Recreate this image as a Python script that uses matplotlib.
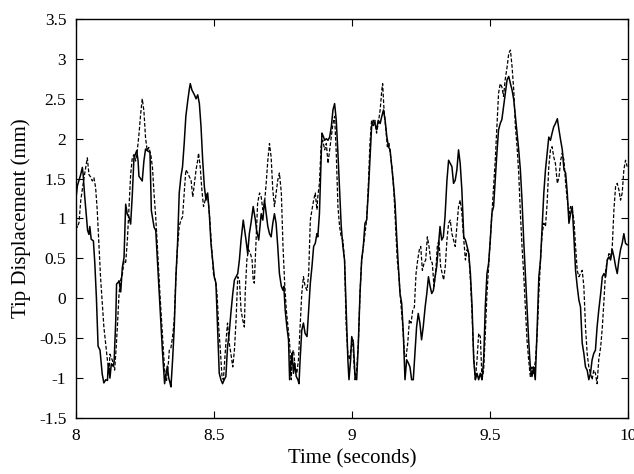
import matplotlib
matplotlib.use("Agg")
import matplotlib.pyplot as plt

# measured tip displacement (solid)
t_solid = [8.000, 8.005, 8.017, 8.023, 8.026, 8.031, 8.037, 8.042, 8.047, 8.050,
           8.055, 8.063, 8.068, 8.074, 8.080, 8.087, 8.095, 8.101, 8.108, 8.114,
           8.117, 8.123, 8.128, 8.134, 8.138, 8.144, 8.147, 8.153, 8.156, 8.162,
           8.168, 8.174, 8.180, 8.186, 8.192, 8.198, 8.204, 8.210, 8.220, 8.225,
           8.228, 8.240, 8.246, 8.252, 8.258, 8.268, 8.273, 8.283, 8.289, 8.295,
           8.304, 8.313, 8.321, 8.326, 8.331, 8.336, 8.340, 8.344, 8.350, 8.356,
           8.362, 8.368, 8.374, 8.380, 8.386, 8.392, 8.398, 8.405, 8.411, 8.414,
           8.420, 8.429, 8.435, 8.441, 8.447, 8.453, 8.459, 8.465, 8.471, 8.477,
           8.483, 8.489, 8.495, 8.501, 8.507, 8.513, 8.519, 8.525, 8.531, 8.537,
           8.543, 8.549, 8.555, 8.561, 8.568, 8.574, 8.580, 8.586, 8.592, 8.598,
           8.606, 8.616, 8.622, 8.628, 8.634, 8.642, 8.650, 8.654, 8.662, 8.671,
           8.677, 8.683, 8.689, 8.695, 8.701, 8.707, 8.713, 8.719, 8.725, 8.731,
           8.737, 8.744, 8.750, 8.753, 8.758, 8.764, 8.770, 8.774, 8.780, 8.783,
           8.788, 8.792, 8.798, 8.804, 8.808, 8.812, 8.818, 8.824, 8.830, 8.837,
           8.843, 8.849, 8.855, 8.861, 8.867, 8.873, 8.876, 8.882, 8.886, 8.891,
           8.896, 8.901, 8.907, 8.913, 8.919, 8.925, 8.931, 8.937, 8.943, 8.949,
           8.955, 8.961, 8.967, 8.973, 8.979, 8.985, 8.989, 8.995, 8.999, 9.005,
           9.011, 9.017, 9.023, 9.029, 9.035, 9.041, 9.047, 9.053, 9.059, 9.065,
           9.071, 9.077, 9.083, 9.089, 9.095, 9.102, 9.108, 9.114, 9.120, 9.126,
           9.132, 9.138, 9.144, 9.150, 9.156, 9.162, 9.168, 9.174, 9.180, 9.186,
           9.192, 9.198, 9.204, 9.210, 9.216, 9.222, 9.228, 9.234, 9.240, 9.246,
           9.252, 9.258, 9.265, 9.271, 9.277, 9.283, 9.289, 9.295, 9.301, 9.307,
           9.313, 9.319, 9.325, 9.331, 9.337, 9.344, 9.350, 9.356, 9.362, 9.368,
           9.374, 9.380, 9.386, 9.392, 9.398, 9.405, 9.411, 9.417, 9.423, 9.429,
           9.435, 9.441, 9.447, 9.453, 9.459, 9.465, 9.471, 9.477, 9.483, 9.489,
           9.495, 9.501, 9.507, 9.513, 9.519, 9.525, 9.531, 9.537, 9.543, 9.549,
           9.555, 9.562, 9.568, 9.574, 9.580, 9.586, 9.592, 9.598, 9.604, 9.610,
           9.616, 9.622, 9.628, 9.634, 9.640, 9.646, 9.652, 9.658, 9.664, 9.671,
           9.677, 9.683, 9.689, 9.695, 9.701, 9.707, 9.713, 9.719, 9.725, 9.731,
           9.737, 9.744, 9.750, 9.756, 9.762, 9.768, 9.774, 9.780, 9.786, 9.792,
           9.798, 9.804, 9.810, 9.816, 9.822, 9.828, 9.834, 9.840, 9.846, 9.852,
           9.858, 9.864, 9.870, 9.876, 9.882, 9.888, 9.894, 9.901, 9.907, 9.913,
           9.919, 9.925, 9.931, 9.937, 9.943, 9.949, 9.955, 9.961, 9.967, 9.973,
           9.979, 9.985, 9.991, 9.997]
y_solid = [1.26, 1.41, 1.55, 1.64, 1.55, 1.30, 1.05, 0.85, 0.80, 0.90,
           0.74, 0.72, 0.45, 0.00, -0.60, -0.65, -0.95, -1.06, -1.02, -1.03,
           -0.82, -1.00, -0.82, -0.85, -0.80, -0.28, 0.18, 0.20, 0.22, 0.08,
           0.39, 0.51, 1.18, 1.05, 1.02, 0.93, 1.30, 1.76, 1.85, 1.72,
           1.53, 1.47, 1.72, 1.87, 1.85, 1.83, 1.10, 0.89, 0.85, 0.47,
           -0.11, -0.65, -1.07, -0.95, -0.85, -1.00, -1.05, -1.11, -0.77, -0.36,
           0.27, 0.69, 1.32, 1.52, 1.65, 1.94, 2.28, 2.48, 2.63, 2.69,
           2.61, 2.55, 2.50, 2.55, 2.44, 2.15, 1.73, 1.40, 1.23, 1.32,
           1.06, 0.69, 0.48, 0.27, 0.19, -0.36, -0.94, -1.02, -1.07, -1.02,
           -0.98, -0.61, -0.44, -0.19, 0.06, 0.23, 0.27, 0.31, 0.48, 0.73,
           0.98, 0.73, 0.56, 0.81, 0.94, 1.15, 0.98, 0.86, 0.73, 1.06,
           0.98, 1.23, 1.06, 0.90, 0.81, 0.77, 0.94, 1.06, 0.94, 0.65,
           0.31, 0.15, 0.10, 0.15, -0.15, -0.36, -0.52, -1.02, -0.77, -0.69,
           -0.94, -0.81, -0.98, -1.02, -1.07, -0.77, -0.40, -0.31, -0.44, -0.48,
           -0.15, 0.19, 0.40, 0.65, 0.69, 0.81, 0.77, 1.06, 1.52, 2.07,
           2.03, 1.98, 2.00, 1.98, 2.02, 2.15, 2.36, 2.44, 2.23, 1.82,
           1.36, 0.90, 0.65, 0.48, -0.15, -0.77, -1.02, -0.77, -0.48, -0.56,
           -0.98, -1.02, -0.56, 0.06, 0.48, 0.65, 0.94, 0.98, 1.32, 1.73,
           2.15, 2.23, 2.19, 2.11, 2.23, 2.19, 2.28, 2.36, 2.23, 2.03,
           1.90, 1.86, 1.65, 1.44, 1.19, 0.77, 0.40, 0.06, -0.06, -0.44,
           -1.02, -0.77, -0.81, -0.86, -1.02, -1.02, -0.69, -0.36, -0.19, -0.31,
           -0.52, -0.36, -0.11, 0.06, 0.27, 0.15, 0.06, 0.10, 0.27, 0.40,
           0.65, 0.90, 0.73, 0.77, 1.02, 1.48, 1.73, 1.69, 1.65, 1.44,
           1.48, 1.61, 1.86, 1.69, 1.36, 0.77, 0.73, 0.65, 0.56, 0.31,
           -0.10, -0.77, -1.02, -0.94, -1.02, -0.94, -1.02, -0.77, -0.10, 0.31,
           0.44, 0.73, 1.07, 1.15, 1.48, 1.82, 2.11, 2.19, 2.24, 2.40,
           2.57, 2.74, 2.78, 2.69, 2.61, 2.49, 2.28, 2.07, 1.86, 1.61,
           1.23, 0.73, 0.31, -0.10, -0.52, -0.86, -0.98, -0.86, -1.02, -0.36,
           0.27, 0.48, 0.90, 1.32, 1.61, 1.82, 2.02, 1.98, 2.07, 2.15,
           2.19, 2.25, 2.11, 1.98, 1.86, 1.61, 1.57, 1.32, 0.94, 1.06,
           1.15, 0.77, 0.35, 0.15, -0.02, -0.11, -0.56, -0.69, -0.86, -0.90,
           -1.02, -0.94, -0.77, -0.69, -0.65, -0.36, -0.15, 0.06, 0.27, 0.31,
           0.27, 0.48, 0.52, 0.48, 0.61, 0.52, 0.40, 0.31, 0.48, 0.61,
           0.69, 0.81, 0.69, 0.67]

# predicted tip displacement (dashed)
t_dashed = [8.000, 8.005, 8.011, 8.017, 8.029, 8.041, 8.047, 8.053, 8.059, 8.065,
            8.071, 8.077, 8.089, 8.101, 8.110, 8.114, 8.120, 8.123, 8.132, 8.140,
            8.145, 8.150, 8.156, 8.162, 8.168, 8.174, 8.180, 8.186, 8.192, 8.198,
            8.204, 8.210, 8.216, 8.222, 8.228, 8.234, 8.240, 8.246, 8.252, 8.258,
            8.264, 8.271, 8.277, 8.283, 8.289, 8.295, 8.304, 8.313, 8.321, 8.328,
            8.335, 8.338, 8.344, 8.350, 8.356, 8.362, 8.368, 8.374, 8.380, 8.386,
            8.392, 8.398, 8.405, 8.411, 8.417, 8.423, 8.429, 8.435, 8.441, 8.444,
            8.450, 8.456, 8.462, 8.468, 8.473, 8.479, 8.485, 8.491, 8.499, 8.505,
            8.511, 8.517, 8.523, 8.529, 8.534, 8.539, 8.543, 8.549, 8.555, 8.561,
            8.568, 8.574, 8.580, 8.586, 8.592, 8.598, 8.604, 8.610, 8.613, 8.619,
            8.625, 8.632, 8.638, 8.642, 8.646, 8.652, 8.658, 8.665, 8.671, 8.677,
            8.683, 8.689, 8.695, 8.701, 8.707, 8.713, 8.719, 8.725, 8.731, 8.737,
            8.744, 8.750, 8.756, 8.762, 8.768, 8.774, 8.780, 8.783, 8.788, 8.794,
            8.800, 8.806, 8.812, 8.818, 8.824, 8.830, 8.837, 8.843, 8.849, 8.855,
            8.861, 8.867, 8.873, 8.876, 8.882, 8.888, 8.894, 8.901, 8.907, 8.913,
            8.919, 8.925, 8.931, 8.937, 8.943, 8.949, 8.955, 8.961, 8.967, 8.973,
            8.979, 8.985, 8.991, 8.997, 9.003, 9.005, 9.011, 9.017, 9.023, 9.029,
            9.035, 9.041, 9.047, 9.053, 9.059, 9.065, 9.071, 9.077, 9.083, 9.089,
            9.095, 9.102, 9.108, 9.111, 9.116, 9.122, 9.128, 9.134, 9.140, 9.146,
            9.152, 9.158, 9.164, 9.170, 9.176, 9.184, 9.190, 9.196, 9.202, 9.208,
            9.214, 9.220, 9.226, 9.232, 9.238, 9.244, 9.249, 9.255, 9.261, 9.267,
            9.273, 9.279, 9.285, 9.291, 9.297, 9.303, 9.309, 9.315, 9.321, 9.327,
            9.332, 9.338, 9.344, 9.350, 9.356, 9.362, 9.368, 9.374, 9.380, 9.386,
            9.392, 9.398, 9.405, 9.411, 9.417, 9.423, 9.429, 9.435, 9.441, 9.447,
            9.453, 9.459, 9.465, 9.471, 9.477, 9.483, 9.489, 9.495, 9.501, 9.507,
            9.513, 9.519, 9.525, 9.531, 9.537, 9.543, 9.549, 9.555, 9.562, 9.568,
            9.574, 9.580, 9.586, 9.592, 9.598, 9.604, 9.610, 9.616, 9.622, 9.628,
            9.634, 9.640, 9.646, 9.652, 9.658, 9.665, 9.671, 9.677, 9.683, 9.689,
            9.695, 9.701, 9.707, 9.713, 9.719, 9.725, 9.731, 9.737, 9.744, 9.750,
            9.756, 9.762, 9.768, 9.774, 9.780, 9.786, 9.792, 9.798, 9.804, 9.810,
            9.816, 9.822, 9.828, 9.834, 9.840, 9.846, 9.852, 9.858, 9.864, 9.870,
            9.876, 9.882, 9.888, 9.894, 9.901, 9.907, 9.913, 9.919, 9.925, 9.931,
            9.937, 9.943, 9.949, 9.955, 9.961, 9.967, 9.973, 9.979, 9.985, 9.991,
            9.997]
y_dashed = [0.93, 0.89, 0.95, 1.22, 1.51, 1.76, 1.55, 1.52, 1.47, 1.51,
            1.39, 1.10, 0.26, -0.36, -0.65, -0.78, -0.90, -0.70, -0.78, -0.90,
            -0.65, -0.35, 0.06, 0.23, 0.30, 0.47, 0.45, 0.72, 1.14, 1.55,
            1.76, 1.80, 1.72, 1.85, 2.05, 2.30, 2.50, 2.35, 2.01, 1.85,
            1.89, 1.80, 1.64, 1.30, 1.01, 0.64, 0.06, -0.45, -0.90, -1.03,
            -0.80, -0.65, -0.62, -0.48, -0.27, 0.27, 0.65, 0.90, 0.98, 1.02,
            1.32, 1.61, 1.57, 1.52, 1.48, 1.27, 1.44, 1.61, 1.73, 1.82,
            1.65, 1.36, 1.15, 1.23, 1.32, 1.23, 0.98, 0.65, 0.27, 0.23,
            0.06, -0.36, -0.65, -0.98, -1.02, -0.77, -0.56, -0.31, -0.56, -0.69,
            -0.86, -0.65, -0.27, 0.27, 0.23, -0.15, -0.27, -0.36, 0.06, 0.48,
            0.61, 0.56, 0.48, 0.23, 0.19, 0.69, 1.19, 1.32, 1.27, 1.11,
            1.19, 1.44, 1.73, 1.94, 1.77, 1.36, 1.15, 1.32, 1.48, 1.57,
            1.32, 0.65, 0.19, -0.15, -0.36, -0.56, -1.02, -0.69, -0.65, -0.86,
            -0.94, -0.77, -0.36, 0.06, 0.27, 0.15, 0.10, 0.31, 0.98, 1.11,
            1.23, 1.32, 1.11, 1.27, 1.44, 1.90, 1.98, 1.86, 1.94, 1.69,
            1.86, 2.03, 2.19, 2.28, 1.82, 1.15, 0.90, 0.77, 0.73, 0.48,
            -0.36, -0.69, -0.77, -0.61, -0.52, -0.69, -1.02, -0.90, -0.56, 0.06,
            0.48, 0.65, 0.81, 0.98, 1.40, 1.94, 2.23, 2.15, 2.23, 2.07,
            2.19, 2.36, 2.61, 2.69, 2.36, 2.15, 1.90, 1.94, 1.77, 1.61,
            1.32, 0.90, 0.48, 0.27, -0.02, -0.36, -0.69, -0.73, -0.56, -0.27,
            -0.31, -0.15, -0.11, 0.31, 0.48, 0.61, 0.65, 0.35, 0.44, 0.48,
            0.77, 0.65, 0.48, 0.44, 0.15, 0.31, 0.65, 0.73, 0.40, 0.31,
            0.23, 0.40, 0.73, 0.94, 0.98, 0.81, 0.73, 0.65, 0.90, 1.15,
            1.23, 1.07, 0.73, 0.48, 0.61, 0.56, 0.23, -0.19, -0.73, -1.02,
            -0.77, -0.44, -0.48, -1.02, -0.90, -0.44, 0.06, 0.40, 0.73, 1.07,
            1.40, 1.73, 2.15, 2.57, 2.69, 2.65, 2.53, 2.74, 2.90, 3.07,
            3.11, 2.90, 2.61, 2.15, 1.90, 1.57, 1.07, 0.65, 0.31, -0.10,
            -0.52, -0.77, -0.98, -0.86, -0.94, -0.77, -0.45, 0.06, 0.48, 0.81,
            0.94, 0.90, 1.19, 1.65, 1.86, 1.90, 1.77, 1.69, 1.44, 1.52,
            1.73, 1.82, 1.73, 1.44, 1.23, 1.06, 1.15, 1.11, 0.98, 0.65,
            0.35, 0.27, 0.31, 0.35, 0.15, -0.36, -0.69, -0.86, -0.94, -1.02,
            -0.90, -0.94, -1.07, -0.77, -0.61, -0.36, -0.02, 0.35, 0.48, 0.56,
            0.52, 0.65, 1.11, 1.40, 1.44, 1.36, 1.23, 1.32, 1.61, 1.73,
            1.65]

x_ticks = [8, 8.5, 9, 9.5, 10]
x_tick_labels = ['8', '8.5', '9', '9.5', '10']
y_ticks = [-1.5, -1, -0.5, 0, 0.5, 1, 1.5, 2, 2.5, 3, 3.5]
y_tick_labels = ['-1.5', '-1', '-0.5', '0', '0.5', '1', '1.5', '2', '2.5', '3', '3.5']

plt.rcParams['font.family'] = ['Liberation Serif', 'DejaVu Serif']

fig = plt.figure(figsize=(6.34, 4.74), dpi=100)
ax = fig.add_axes([76 / 634, 1 - 418 / 474, 552 / 634, 399 / 474])

ax.plot(t_solid, y_solid, color='black', linewidth=1.1, linestyle='-')
ax.plot(t_dashed, y_dashed, color='black', linewidth=0.9, linestyle=(0, (3, 1.5)))

ax.set_xlim(8, 10)
ax.set_ylim(-1.5, 3.5)
ax.set_xticks(x_ticks)
ax.set_xticklabels(x_tick_labels)
ax.set_yticks(y_ticks)
ax.set_yticklabels(y_tick_labels)
ax.tick_params(direction='in', length=5, width=0.8, top=True, right=True,
               labelsize=12.5, pad=7)
for s in ax.spines.values():
    s.set_linewidth(1.0)

ax.set_xlabel('Time (seconds)', fontsize=15, labelpad=4)
ax.set_ylabel('Tip Displacement (mm)', fontsize=15, labelpad=6)

fig.savefig('out.png', dpi=100)
